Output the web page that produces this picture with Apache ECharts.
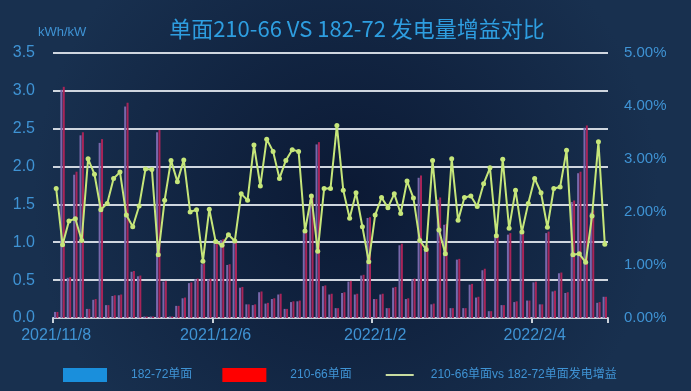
<!DOCTYPE html>
<html>
<head>
<meta charset="utf-8">
<script src="https://cdn.jsdelivr.net/npm/echarts@6/dist/echarts.min.js"></script>
<style>
html,body{margin:0;padding:0;background:#0e1d3a;}
#chart{width:691px;height:391px;}
</style>
</head>
<body>
<div id="chart"></div>
<script>
// Categories (dates)
const categories = [
  '2021/11/8','2021/11/9','2021/11/10','2021/11/11','2021/11/12','2021/11/14','2021/11/15','2021/11/16','2021/11/17','2021/11/18',
  '2021/11/19','2021/11/21','2021/11/22','2021/11/23','2021/11/24','2021/11/25','2021/11/26','2021/11/28','2021/11/29','2021/11/30',
  '2021/12/1','2021/12/2','2021/12/3','2021/12/4','2021/12/5','2021/12/6','2021/12/7','2021/12/8','2021/12/9','2021/12/10',
  '2021/12/11','2021/12/12','2021/12/13','2021/12/14','2021/12/15','2021/12/16','2021/12/17','2021/12/18','2021/12/20','2021/12/21',
  '2021/12/22','2021/12/23','2021/12/24','2021/12/25','2021/12/26','2021/12/27','2021/12/28','2021/12/29','2021/12/30','2021/12/31',
  '2022/1/2','2022/1/3','2022/1/4','2022/1/5','2022/1/6','2022/1/7','2022/1/8','2022/1/10','2022/1/11','2022/1/12',
  '2022/1/13','2022/1/14','2022/1/15','2022/1/17','2022/1/18','2022/1/19','2022/1/20','2022/1/21','2022/1/22','2022/1/24',
  '2022/1/25','2022/1/26','2022/1/27','2022/1/28','2022/1/29','2022/2/4','2022/2/5','2022/2/6','2022/2/7','2022/2/8',
  '2022/2/9','2022/2/10','2022/2/11','2022/2/12','2022/2/13','2022/2/14','2022/2/15'
];

// 182-72单面 (kWh/kW)
const values18272 = [
  0.08,3.01,0.53,1.89,2.41,0.12,0.24,2.31,0.17,0.29,
  0.30,2.79,0.61,0.55,0.02,0.02,2.45,0.48,0.02,0.16,
  0.26,0.46,0.51,0.71,0.51,0.99,1.03,0.70,0.99,0.40,
  0.18,0.17,0.34,0.19,0.25,0.31,0.12,0.21,0.22,1.13,
  1.56,2.29,0.42,0.31,0.13,0.33,0.48,0.31,0.56,1.32,
  0.25,0.31,0.13,0.40,0.96,0.25,0.51,1.85,0.95,0.18,
  1.56,1.23,0.13,0.77,0.13,0.44,0.27,0.63,0.09,1.07,
  0.17,1.10,0.21,1.12,0.23,0.47,0.18,1.12,0.35,0.59,
  0.33,1.53,1.91,2.51,1.39,0.20,0.28
];

// 210-66单面 (kWh/kW)
const values21066 = [
  0.08,3.05,0.54,1.93,2.45,0.12,0.25,2.36,0.17,0.30,
  0.31,2.84,0.62,0.56,0.02,0.02,2.48,0.49,0.02,0.16,
  0.27,0.47,0.52,0.72,0.52,1.00,1.04,0.71,1.00,0.41,
  0.18,0.18,0.35,0.20,0.26,0.32,0.12,0.22,0.23,1.15,
  1.60,2.32,0.43,0.32,0.13,0.34,0.49,0.32,0.57,1.33,
  0.25,0.32,0.13,0.41,0.98,0.26,0.52,1.88,0.96,0.19,
  1.59,1.24,0.13,0.78,0.13,0.45,0.28,0.65,0.09,1.09,
  0.17,1.12,0.22,1.14,0.23,0.48,0.18,1.14,0.36,0.60,
  0.34,1.55,1.93,2.54,1.42,0.21,0.28
];

// 210-66单面vs 182-72单面发电增益 (%)
const gainPercent = [
  2.44,1.38,1.83,1.87,1.46,3.00,2.71,2.04,2.16,2.63,
  2.75,1.94,1.72,2.11,2.81,2.80,1.19,2.22,2.97,2.57,
  2.98,2.00,2.04,1.07,2.05,1.44,1.37,1.57,1.45,2.34,
  2.22,3.26,2.49,3.37,3.14,2.63,2.97,3.17,3.14,1.64,
  2.30,1.26,2.44,2.44,3.63,2.41,1.88,2.36,1.72,1.06,
  1.94,2.27,2.08,2.34,1.97,2.58,2.26,1.46,1.29,2.97,
  1.66,1.21,3.00,1.84,2.27,2.30,2.10,2.53,2.83,1.55,
  2.99,1.69,2.41,1.62,2.16,2.63,2.36,1.71,2.44,2.47,
  3.16,1.19,1.21,1.05,1.92,3.32,1.39
];

const seriesNames = ['182-72单面', '210-66单面', '210-66单面vs 182-72单面发电增益'];
const titleText = '单面210-66 VS 182-72 发电量增益对比';
const leftAxisName = 'kWh/kW';

const labelColor = '#3f93d4';
const fontFam = '"Liberation Sans", "Noto Sans CJK SC", sans-serif';

const chart = echarts.init(document.getElementById('chart'), null, {renderer: 'canvas'});
chart.setOption({
  backgroundColor: {
    type: 'radial', x: 0.5, y: 0.5, r: 0.8,
    colorStops: [{offset: 0, color: '#0b1934'}, {offset: 1, color: '#18304f'}]
  },
  animation: false,
  title: {
    text: titleText,
    left: 352,
    textAlign: 'center',
    top: 13,
    textStyle: {color: '#2e9ee0', fontSize: 22, fontWeight: 'normal', fontFamily: '"Noto Sans CJK SC", sans-serif'}
  },
  legend: {
    left: 63,
    top: 368,
    padding: 0,
    itemWidth: 44,
    itemHeight: 14,
    itemGap: 30,
    textStyle: {color: labelColor, fontSize: 12, fontFamily: fontFam, padding: [0, 0, 0, 19]},
    data: [
      {name: seriesNames[0], icon: 'rect', itemStyle: {color: '#1a8fdc'}},
      {name: seriesNames[1], icon: 'rect', itemStyle: {color: '#ff0000'}},
      {name: seriesNames[2], icon: 'path://M0,0M44,14M4,6L32,6L32,8L4,8Z', itemStyle: {color: '#c8dca0'}, textStyle: {padding: [0, 0, 0, 0]}}
    ]
  },
  grid: {left: 53, right: 83, top: 52.7, bottom: 73},
  xAxis: {
    type: 'category',
    data: categories,
    boundaryGap: true,
    axisLine: {lineStyle: {color: '#c9d1da', width: 2}},
    axisTick: {show: true, interval: 24, length: 5, lineStyle: {color: '#c9d1da', width: 2}},
    axisLabel: {interval: 24, color: labelColor, fontSize: 16, fontFamily: fontFam, margin: 10}
  },
  yAxis: [
    {
      type: 'value',
      min: 0, max: 3.5, interval: 0.5,
      name: leftAxisName,
      nameGap: 14,
      nameTextStyle: {color: labelColor, fontSize: 13, fontFamily: fontFam, align: 'left', padding: [0, 0, 0, -15]},
      axisLine: {show: false},
      axisTick: {show: false},
      axisLabel: {color: labelColor, fontSize: 16, fontFamily: fontFam, margin: 18, formatter: v => v.toFixed(1)},
      splitLine: {lineStyle: {color: '#cfd6df', width: 2}}
    },
    {
      type: 'value',
      min: 0, max: 5, interval: 1,
      axisLine: {show: false},
      axisTick: {show: false},
      axisLabel: {color: labelColor, fontSize: 15, fontFamily: fontFam, margin: 16, formatter: v => v.toFixed(2) + '%'},
      splitLine: {show: false}
    }
  ],
  series: [
    {
      name: seriesNames[0], type: 'bar', data: values18272,
      barWidth: 2, barGap: '20%',
      itemStyle: {color: '#7868ac'}
    },
    {
      name: seriesNames[1], type: 'bar', data: values21066,
      barWidth: 2,
      itemStyle: {color: '#a82458'}
    },
    {
      name: seriesNames[2], type: 'line', yAxisIndex: 1, data: gainPercent,
      symbol: 'circle', symbolSize: 5, showSymbol: true, showAllSymbol: true,
      lineStyle: {color: '#c6e67a', width: 2},
      itemStyle: {color: '#c6e67a'}
    }
  ]
});
</script>
</body>
</html>
